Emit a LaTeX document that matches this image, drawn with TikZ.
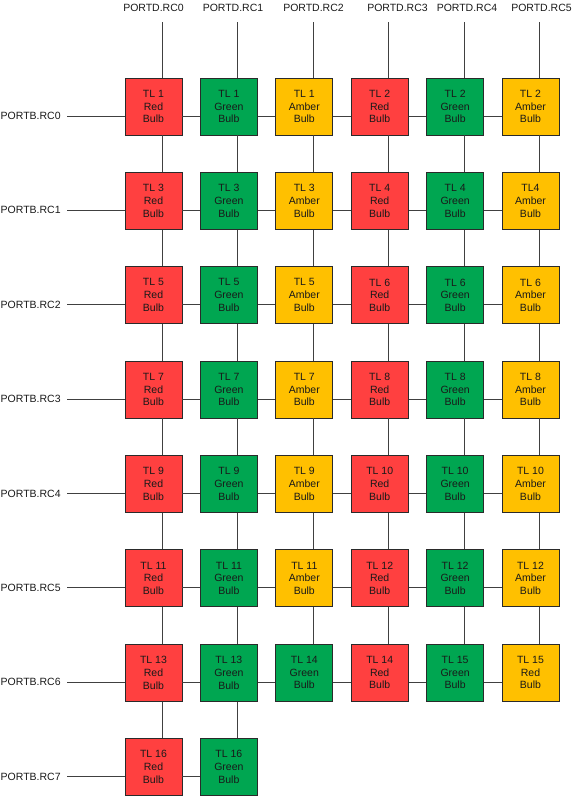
\documentclass[tikz,border=0pt]{standalone}
\usepackage{fontspec}
\setmainfont{Liberation Sans}
\definecolor{bred}{HTML}{FF4040}
\definecolor{bgreen}{HTML}{00A651}
\definecolor{bamber}{HTML}{FFC000}
\definecolor{wirec}{HTML}{404040}
\definecolor{edgec}{HTML}{2A2A2A}
\begin{document}
\begin{tikzpicture}[x=1pt,y=-1pt,
  bulb/.style={draw=edgec, line width=0.8pt, minimum width=57pt, minimum height=57pt,
    inner sep=0pt, align=center, font=\fontsize{10.5}{12.8}\selectfont, text=black!90},
  wire/.style={draw=wirec, line width=0.8pt},
  port/.style={inner sep=0pt, font=\fontsize{10.5}{12}\selectfont, text=black!90}]
\useasboundingbox (0,0) rectangle (574,796);
% bulbs
\foreach \r/\c/\col/\txt in {
  1/1/bred/{TL 1\\Red\\Bulb}, 1/2/bgreen/{TL 1\\Green\\Bulb}, 1/3/bamber/{TL 1\\Amber\\Bulb},
  1/4/bred/{TL 2\\Red\\Bulb}, 1/5/bgreen/{TL 2\\Green\\Bulb}, 1/6/bamber/{TL 2\\Amber\\Bulb},
  2/1/bred/{TL 3\\Red\\Bulb}, 2/2/bgreen/{TL 3\\Green\\Bulb}, 2/3/bamber/{TL 3\\Amber\\Bulb},
  2/4/bred/{TL 4\\Red\\Bulb}, 2/5/bgreen/{TL 4\\Green\\Bulb}, 2/6/bamber/{TL4\\Amber\\Bulb},
  3/1/bred/{TL 5\\Red\\Bulb}, 3/2/bgreen/{TL 5\\Green\\Bulb}, 3/3/bamber/{TL 5\\Amber\\Bulb},
  3/4/bred/{TL 6\\Red\\Bulb}, 3/5/bgreen/{TL 6\\Green\\Bulb}, 3/6/bamber/{TL 6\\Amber\\Bulb},
  4/1/bred/{TL 7\\Red\\Bulb}, 4/2/bgreen/{TL 7\\Green\\Bulb}, 4/3/bamber/{TL 7\\Amber\\Bulb},
  4/4/bred/{TL 8\\Red\\Bulb}, 4/5/bgreen/{TL 8\\Green\\Bulb}, 4/6/bamber/{TL 8\\Amber\\Bulb},
  5/1/bred/{TL 9\\Red\\Bulb}, 5/2/bgreen/{TL 9\\Green\\Bulb}, 5/3/bamber/{TL 9\\Amber\\Bulb},
  5/4/bred/{TL 10\\Red\\Bulb}, 5/5/bgreen/{TL 10\\Green\\Bulb}, 5/6/bamber/{TL 10\\Amber\\Bulb},
  6/1/bred/{TL 11\\Red\\Bulb}, 6/2/bgreen/{TL 11\\Green\\Bulb}, 6/3/bamber/{TL 11\\Amber\\Bulb},
  6/4/bred/{TL 12\\Red\\Bulb}, 6/5/bgreen/{TL 12\\Green\\Bulb}, 6/6/bamber/{TL 12\\Amber\\Bulb},
  7/1/bred/{TL 13\\Red\\Bulb}, 7/2/bgreen/{TL 13\\Green\\Bulb}, 7/3/bgreen/{TL 14\\Green\\Bulb},
  7/4/bred/{TL 14\\Red\\Bulb}, 7/5/bgreen/{TL 15\\Green\\Bulb}, 7/6/bamber/{TL 15\\Red\\Bulb},
  8/1/bred/{TL 16\\Red\\Bulb}, 8/2/bgreen/{TL 16\\Green\\Bulb}}
  {\node[bulb, fill=\col] (b\r\c) at ({153.5+75.4*(\c-1)}, {106.5+94.35*(\r-1)}) {\txt};}
% top labels and wires
\foreach \c/\lx in {1/153.5, 2/233, 3/313.5, 4/397.5, 5/467, 6/541.5} {
  \pgfmathtruncatemacro\cn{\c-1}
  \node[port] (d\c) at (\lx, 8) {PORTD.RC\cn};
  \coordinate (t\c) at ({162.3+75.4*(\c-1)}, 22);
  \draw[wire] (t\c) -- ([xshift=8.8pt]b1\c.north);
}
% left labels and wires
\foreach \r in {1,...,8} {
  \pgfmathtruncatemacro\rn{\r-1}
  \node[port, anchor=west] (p\r) at (0.5, {116+94.35*(\r-1)}) {PORTB.RC\rn};
  \draw[wire] ([xshift=6.5pt]p\r.east) -- ([yshift=-9.5pt]b\r1.west);
}
% vertical wires between rows
\foreach \c in {1,...,6} {
  \foreach \r in {1,...,6} {
    \pgfmathtruncatemacro\rn{\r+1}
    \draw[wire] ([xshift=8.8pt]b\r\c.south) -- ([xshift=8.8pt]b\rn\c.north);
  }
}
\foreach \c in {1,2} {
  \draw[wire] ([xshift=8.8pt]b7\c.south) -- ([xshift=8.8pt]b8\c.north);
}
% horizontal wires between columns
\foreach \r in {1,...,7} {
  \foreach \c in {1,...,5} {
    \pgfmathtruncatemacro\cn{\c+1}
    \draw[wire] ([yshift=-9.5pt]b\r\c.east) -- ([yshift=-9.5pt]b\r\cn.west);
  }
}
\draw[wire] ([yshift=-9.5pt]b81.east) -- ([yshift=-9.5pt]b82.west);
\end{tikzpicture}
\end{document}
